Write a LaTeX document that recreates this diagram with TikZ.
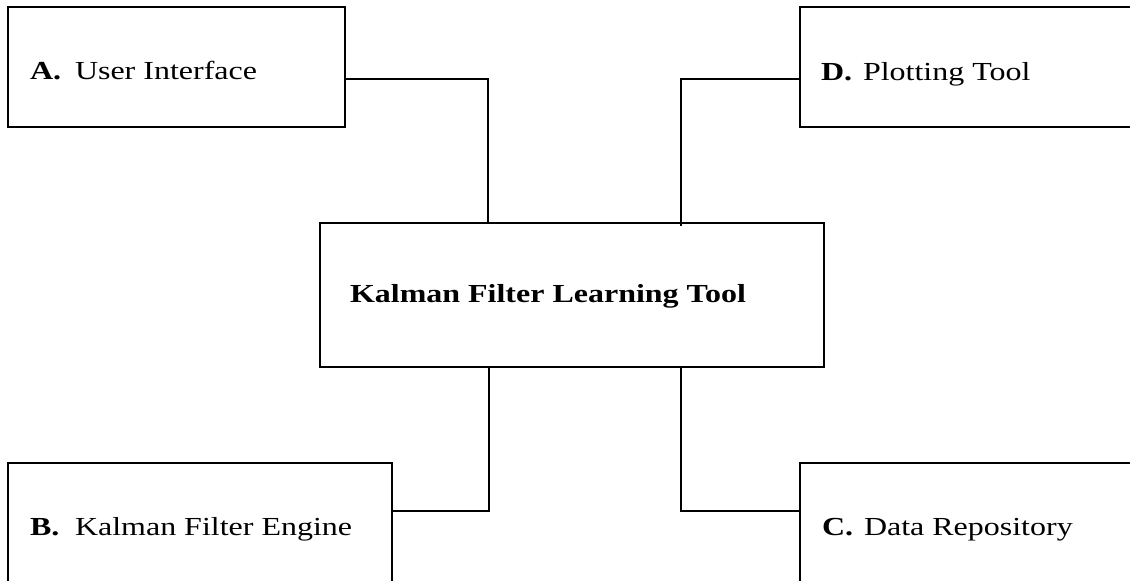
\documentclass[tikz,border=0pt]{standalone}
\usepackage{fontspec}
\setmainfont{Liberation Serif}[FakeStretch=1.23]
\begin{document}
\begin{tikzpicture}[x=1pt,y=-1pt,
  box/.style={draw, line width=2pt, inner sep=0pt, outer sep=0pt},
  wire/.style={draw, line width=2pt},
  lbl/.style={anchor=base west, inner sep=0pt, outer sep=0pt, font=\fontsize{26pt}{30pt}\selectfont}]
\useasboundingbox (0,0) rectangle (1130,581);
\clip (0,0) rectangle (1130,581);
% boxes
\node[box, minimum width=337pt, minimum height=120pt] (A) at (176.5,67) {};
\node[box, minimum width=345pt, minimum height=120pt] (D) at (972.5,67) {};
\node[box, minimum width=504pt, minimum height=144pt] (K) at (572,295) {};
\node[box, minimum width=384pt, minimum height=137pt] (B) at (200,531.5) {};
\node[box, minimum width=345pt, minimum height=137pt] (C) at (972.5,531.5) {};
% labels
\node[lbl] (At) at (30,79) {\makebox[45pt][l]{\textbf{A.}}User Interface};
\node[lbl] (Dt) at (821,80) {\makebox[42pt][l]{\textbf{D.}}Plotting Tool};
\node[lbl] (Bt) at (30,535) {\makebox[45pt][l]{\textbf{B.}}Kalman Filter Engine};
\node[lbl] (Ct) at (822,535) {\makebox[42pt][l]{\textbf{C.}}Data Repository};
\node[lbl] (Kt) at (350,302) {\textbf{Kalman Filter Learning Tool}};
% connectors
\draw[wire] ([yshift=-12pt]A.east) -| ([xshift=-84pt]K.north);
\draw[wire] ([yshift=-12pt]D.west) -| ([xshift=109pt,yshift=-3pt]K.north);
\draw[wire] ([yshift=20.5pt]B.east) -| ([xshift=-83pt]K.south);
\draw[wire] ([yshift=20.5pt]C.west) -| ([xshift=109pt]K.south);
\end{tikzpicture}
\end{document}
